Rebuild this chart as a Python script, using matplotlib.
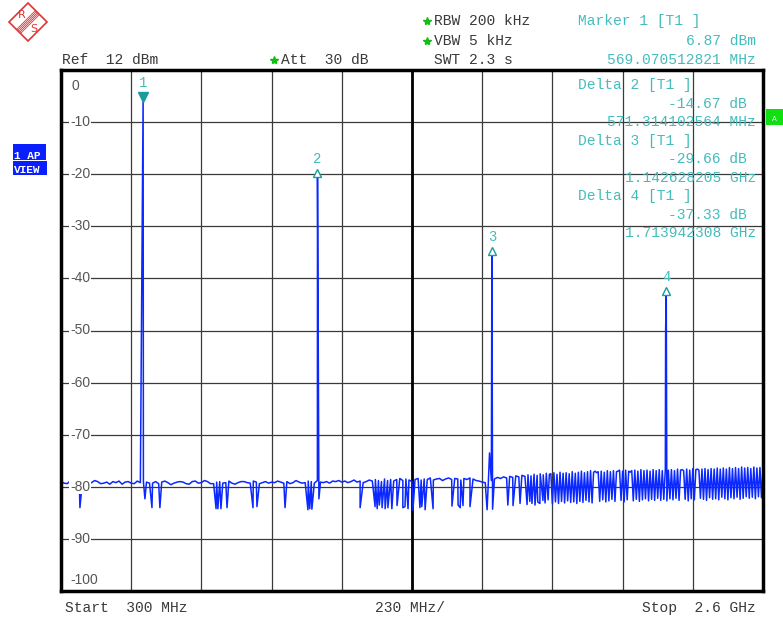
import numpy as np
import matplotlib.pyplot as plt
from matplotlib.patches import Polygon, Rectangle

# trace, MHz / dBm
base_mhz = np.arange(300, 1901, 10)
base_db = [-67.0, -67.3, -67.4, -66.9, -67.2, -67.3, -67.6, -67.1, -67.0, -67.3,
           -67.2, -66.8, -67.0, -67.4, -67.3, -67.1, -67.5, -67.0, -67.2, -66.9,
           -67.5, -67.1, -67.0, -67.3, -67.4, -66.9, -67.2, -67.0, -67.1, -67.3,
           -67.3, -67.0, -67.4, -67.1, -66.9, -67.2, -67.6, -67.3, -67.1, -67.0,
           -67.1, -67.4, -67.5, -67.0, -66.9, -67.3, -67.2, -66.8, -67.0, -67.4,
           -67.4, -67.1, -67.0, -67.3, -67.2, -66.9, -67.3, -67.5, -67.2, -67.0,
           -67.0, -67.2, -67.3, -66.9, -67.1, -67.4, -67.2, -67.0, -67.3, -67.1,
           -67.2, -66.9, -67.1, -67.3, -67.0, -67.4, -67.2, -66.8, -67.1, -67.3,
           -67.2, -66.9, -67.0, -67.3, -66.8, -67.1, -67.2, -67.0, -67.3, -66.9,
           -67.0, -66.8, -67.1, -66.9, -67.2, -67.0, -66.7, -67.1, -66.9, -67.2,
           -67.0, -66.7, -66.9, -66.6, -66.8, -67.0, -66.5, -66.8, -66.6, -66.9,
           -66.6, -66.4, -66.8, -66.5, -66.7, -67.0, -66.6, -66.4, -66.7, -66.5,
           -66.6, -66.3, -66.7, -66.5, -66.4, -66.8, -66.5, -66.3, -66.6, -66.4,
           -66.5, -66.7, -66.4, -66.6, -66.3, -66.5, -66.8, -66.9, -67.1, -67.2,
           -67.3, -66.8, -66.5, -66.2, -66.4, -66.1, -66.3, -66.0, -66.2, -65.9,
           -66.1, -65.8, -66.0, -65.7, -65.9, -65.6, -65.8, -65.5, -65.7, -65.4,
           -65.6]

# upper band, trace flips between top and bottom every sample
dense_mhz = np.arange(1905, 2601, 5)
dense_db = [-65.5, -71.3, -65.3, -70.9, -65.6, -71.2, -65.2, -70.8, -65.4, -71.1,
            -65.3, -70.7, -65.5, -71.0, -65.1, -70.9, -65.4, -71.2, -65.2, -70.8,
            -65.0, -71.0, -65.3, -70.6, -65.1, -70.9, -64.9, -71.1, -65.2, -65.0,
            -65.3, -65.1, -70.8, -65.0, -70.5, -65.2, -70.9, -64.9, -70.7, -65.1,
            -70.4, -64.9, -70.8, -65.1, -65.0, -64.8, -70.6, -65.0, -70.9, -64.8,
            -70.5, -65.0, -65.2, -64.9, -70.7, -64.8, -70.4, -65.0, -70.8, -64.7,
            -70.5, -64.9, -70.3, -64.8, -70.7, -65.0, -70.4, -64.7, -70.6, -64.9,
            -70.2, -64.7, -70.6, -64.9, -70.4, -64.6, -70.7, -64.8, -70.3, -64.7,
            -70.5, -64.9, -70.2, -64.6, -70.6, -64.8, -64.7, -64.9, -70.4, -64.6,
            -70.7, -64.8, -70.3, -64.5, -70.5, -64.7, -64.6, -64.8, -70.2, -64.6,
            -70.4, -64.5, -70.6, -64.7, -70.1, -64.5, -70.4, -64.6, -70.3, -64.4,
            -70.5, -64.6, -70.0, -64.4, -70.3, -64.6, -70.5, -64.3, -70.1, -64.5,
            -70.3, -64.3, -70.0, -64.5, -70.4, -64.2, -70.2, -64.4, -69.9, -64.3,
            -70.2, -64.5, -70.0, -64.2, -70.3, -64.4, -69.9, -64.3, -70.1, -64.4]

dip_mhz = [362, 575, 598, 624, 808, 814, 824, 844, 929, 942, 1034, 1109, 1115, 1122,
           1145, 1280, 1329, 1336, 1343, 1352, 1362, 1371, 1384, 1401, 1420, 1427,
           1437, 1453, 1476, 1482, 1493, 1519, 1581, 1601, 1608, 1617, 1640, 1696,
           1714, 1764, 1781, 1804, 1827, 1836, 1843, 1853, 1862, 1869, 1879, 1886,
           1896]
dip_db = [-72.0, -70.3, -72.0, -72.0, -72.2, -72.2, -72.2, -72.0, -72.0, -71.8, -72.0,
          -72.4, -72.2, -72.3, -70.3, -72.0, -71.8, -72.2, -71.5, -72.0, -72.2, -72.0,
          -72.2, -71.6, -72.0, -71.8, -72.2, -72.5, -72.0, -71.8, -72.4, -72.2, -71.7,
          -71.5, -72.0, -71.6, -71.8, -72.4, -72.3, -71.5, -71.6, -71.2, -71.4, -70.8,
          -71.2, -71.5, -70.9, -71.2, -70.6, -71.1, -70.5]

spur_mhz = [1704, 2281]
spur_db = [-61.5, -37.9]

peak_mhz = [569.07, 1140.38, 1711.70, 2283.01]
peak_db = [6.87, -7.80, -22.79, -30.46]
peak_names = ['1', '2', '3', '4']

grid_db = [12, 2, -8, -18, -28, -38, -48, -58, -68, -78, -88]
grid_labels = ['0', '-10', '-20', '-30', '-40', '-50', '-60', '-70', '-80', '-90', '-100']

marker_lines = [('Delta 2 [T1 ]', '-14.67 dB', '571.314102564 MHz'),
                ('Delta 3 [T1 ]', '-29.66 dB', '1.142628205 GHz'),
                ('Delta 4 [T1 ]', '-37.33 dB', '1.713942308 GHz')]

mono = 'Liberation Mono'
teal = '#45bcbc'
dark = '#3a3a3a'
blue = '#0a28ff'

fig = plt.figure(figsize=(7.83, 6.17), dpi=100)
ax = fig.add_axes([61 / 783, 1 - 591 / 617, 702 / 783, 521 / 617])
ax.set_xlim(300, 2600)
ax.set_ylim(-88, 12)
ax.set_xticks(np.arange(300, 2601, 230))
ax.set_yticks(grid_db)
ax.tick_params(length=0, labelbottom=False, labelleft=False)
ax.grid(True, color='#3a3a3a', lw=0.9)
ax.axvline(1450, color='black', lw=2)
for s in ax.spines.values():
    s.set_linewidth(2.5)

f = np.concatenate([base_mhz, dense_mhz, dip_mhz, spur_mhz, peak_mhz])
v = np.concatenate([base_db, dense_db, dip_db, spur_db, peak_db])
order = np.argsort(f, kind='stable')
ax.plot(f[order], v[order], color=blue, lw=1.1)

# markers
ax.plot(peak_mhz[0], peak_db[0], marker='v', color='#1a9c9c', ms=7, zorder=5)
ax.plot(peak_mhz[1:], peak_db[1:], ls='none', marker='^', mfc='white', mec='#1a9c9c', ms=6, zorder=5)
for name, x, y in zip(peak_names, peak_mhz, peak_db):
    ax.annotate(name, (x, y), xytext=(0, 5), textcoords='offset points', ha='center',
                va='bottom', color=teal, family=mono, fontsize=10)

# level labels inside the grid
tr = ax.get_yaxis_transform()
for i, (lv, lab) in enumerate(zip(grid_db, grid_labels)):
    if i == 0:
        ax.text(0.015, lv - 1.8, lab, transform=tr, va='top', fontsize=10,
                family='Liberation Sans', color='#555555')
    elif i == len(grid_db) - 1:
        ax.text(0.013, lv + 0.8, lab, transform=tr, va='bottom', fontsize=10,
                family='Liberation Sans', color='#555555',
                bbox=dict(fc='white', ec='none', pad=0.5))
    else:
        ax.text(0.013, lv, lab, transform=tr, va='center', fontsize=10,
                family='Liberation Sans', color='#555555',
                bbox=dict(fc='white', ec='none', pad=0.5))

# marker readout inside the plot
for k, (a, b, c) in enumerate(marker_lines):
    y0 = 85 + k * 55.5
    fig.text(578 / 783, 1 - y0 / 617, a, family=mono, fontsize=10.5, color=teal, va='center')
    fig.text(747 / 783, 1 - (y0 + 19) / 617, b, family=mono, fontsize=10.5, color=teal,
             va='center', ha='right')
    fig.text(756 / 783, 1 - (y0 + 37) / 617, c, family=mono, fontsize=10.5, color=teal,
             va='center', ha='right')

# screen furniture in pixel coordinates
ov = fig.add_axes([0, 0, 1, 1], zorder=-1)
ov.set_xlim(0, 783)
ov.set_ylim(617, 0)
ov.axis('off')

ov.add_patch(Polygon([(28, 3), (47, 22), (28, 41), (9, 22)], closed=True,
                     fc='white', ec='#e03535', lw=1.2))
for d in (-2, -1, 0, 1, 2):
    ov.plot([19 + d, 37 + d], [31 + d, 13 + d], color='#e03535', lw=0.6)
ov.text(22, 15, 'R', color='#e03535', fontsize=8, ha='center', va='center')
ov.text(34, 29, 'S', color='#e03535', fontsize=8, ha='center', va='center')

ov.text(62, 60, 'Ref  12 dBm', family=mono, fontsize=10.5, color=dark, va='center')
ov.text(281, 60, 'Att  30 dB', family=mono, fontsize=10.5, color=dark, va='center')
ov.text(434, 21, 'RBW 200 kHz', family=mono, fontsize=10.5, color=dark, va='center')
ov.text(434, 41, 'VBW 5 kHz', family=mono, fontsize=10.5, color=dark, va='center')
ov.text(434, 60, 'SWT 2.3 s', family=mono, fontsize=10.5, color=dark, va='center')
ov.plot([274, 427, 427], [60, 21, 41], ls='none', marker='*', color='#10c010', ms=6)

ov.text(578, 21, 'Marker 1 [T1 ]', family=mono, fontsize=10.5, color=teal, va='center')
ov.text(756, 41, '6.87 dBm', family=mono, fontsize=10.5, color=teal, va='center', ha='right')
ov.text(756, 60, '569.070512821 MHz', family=mono, fontsize=10.5, color=teal, va='center', ha='right')

ov.text(65, 608, 'Start  300 MHz', family=mono, fontsize=10.5, color=dark, va='center')
ov.text(375, 608, '230 MHz/', family=mono, fontsize=10.5, color=dark, va='center')
ov.text(756, 608, 'Stop  2.6 GHz', family=mono, fontsize=10.5, color=dark, va='center', ha='right')

r1 = Rectangle((13, 144), 33, 16, fc='#0a1eff', ec='none')
r2 = Rectangle((13, 161), 34, 14, fc='#0a1eff', ec='none')
ov.add_patch(r1)
ov.add_patch(r2)
t1 = ov.text(14, 156, '1 AP', color='white', fontsize=8, weight='bold', family=mono, va='center')
t1.set_clip_path(r1)
t2 = ov.text(14, 170, 'VIEW', color='white', fontsize=8, weight='bold', family=mono, va='center')
t2.set_clip_path(r2)
ov.add_patch(Rectangle((766, 109), 17, 16, fc='#10e010', ec='none'))
ov.text(774, 119, 'A', color='white', fontsize=5, ha='center', va='center')

fig.savefig('out.png', dpi=100)
